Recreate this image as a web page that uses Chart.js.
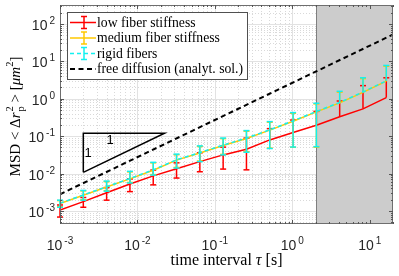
<!DOCTYPE html>
<html><head><meta charset="utf-8">
<script src="https://cdn.jsdelivr.net/npm/chart.js@4"></script>
<style>html,body{margin:0;padding:0;background:#fff}canvas{display:block}</style>
</head><body>
<canvas id="c" width="399" height="276"></canvas>
<script>
// ---- data ----
const tau = [0.001,0.002,0.004,0.008,0.016,0.032,0.064,0.128,0.256,0.512,1.024,2.048,4.096,8.192,16.384];

const lowMSD = [1.07e-3,1.78e-3,3.09e-3,5.25e-3,8.7e-3,0.0135,0.0209,0.0316,0.0447,0.0794,0.126,0.195,0.331,0.537,1.07];
const lowLo  = [6.9e-4,1.26e-3,1.95e-3,3.3e-3,5.0e-3,7.6e-3,0.0112,0.0132,0.0126,null,null,null,null,null,null];
const lowHi  = [1.45e-3,2.3e-3,4.23e-3,7.2e-3,0.0124,0.0194,0.036,0.051,0.089,0.159,0.27,0.46,0.87,2.24,3.63];

const medMSD = [1.58e-3,2.63e-3,4.37e-3,7.24e-3,0.0123,0.0229,0.0355,0.0562,0.0871,0.145,0.251,0.447,0.776,1.48,2.95];
const medLo  = [1.3e-3,2.0e-3,3.5e-3,5.8e-3,9.4e-3,0.0146,0.0216,0.0326,0.0385,0.048,0.0505,0.051,null,null,null];
const medHi  = [1.9e-3,3.45e-3,6.1e-3,0.0111,0.0194,0.032,0.053,0.086,0.136,0.236,0.41,0.73,1.5,3.45,7.4];

const rigidMSD = [1.62e-3,2.69e-3,4.47e-3,7.41e-3,0.0126,0.0234,0.0363,0.0575,0.0891,0.148,0.257,0.457,0.794,1.51,3.02];
const rigidLo  = [1.26e-3,1.95e-3,3.39e-3,5.62e-3,9.12e-3,0.0141,0.0209,0.0316,0.0372,0.0468,0.0513,0.0525,null,null,null];
const rigidHi  = [1.95e-3,3.55e-3,6.31e-3,0.0115,0.020,0.0331,0.055,0.0891,0.141,0.245,0.427,0.759,1.58,3.63,7.76];

const freeTau = [0.001, 20];
const freeMSD = [0.0028, 52];

const triTau = [0.002, 0.002, 0.0224, 0.002];
const triMSD = [0.0108, 0.12, 0.12, 0.0108];
const triLabels = [{t:'1', x:0.00443, y:0.079}, {t:'1', x:0.0023, y:0.0355}];

const xTickExp = [-3,-2,-1,0,1];
const yTickExp = [-3,-2,-1,0,1,2];
const xMin = 0.001, xMax = 20, yMin = 4.5e-4, yMax = 320;
const shadeStart = 2.048;

const legendLabels = ['low fiber stiffness','medium fiber stiffness','rigid fibers','free diffusion (analyt. sol.)'];

const RED = '#ff0000', YEL = '#ffc800', CYA = '#12f0f0', BLK = '#000000';

const pts = (xs, ys) => xs.map((v,i)=>({x:v, y:ys[i]}));

const SERIF = '"Liberation Serif", "DejaVu Serif", serif';
const SANS = '"Liberation Sans", Arial, sans-serif';

function rich(ctx, pieces, cx, cy){
  let w = 0;
  pieces.forEach(p=>{ctx.font=p.f; p.w = ctx.measureText(p.t).width; if(p.sub){ctx.font=p.sf; p.w=Math.max(p.w, ctx.measureText(p.sub).width);} w += p.w + (p.sp||0);});
  let x = cx - w/2;
  ctx.textBaseline='alphabetic'; ctx.textAlign='left';
  pieces.forEach(p=>{
    ctx.font=p.f; ctx.fillText(p.t, x, cy + (p.dy||0));
    if(p.sub){ctx.font=p.sf; ctx.fillText(p.sub, x, cy + p.sdy);}
    x += p.w + (p.sp||0);
  });
}

const plug = {
  id:'custom',
  beforeDatasetsDraw(chart){
    const {ctx, chartArea:a, scales:{x,y}} = chart;
    ctx.save();
    const vline=(px,c,d)=>{ctx.strokeStyle=c;ctx.setLineDash(d);ctx.beginPath();ctx.moveTo(px,a.top);ctx.lineTo(px,a.bottom);ctx.stroke();};
    const hline=(py,c,d)=>{ctx.strokeStyle=c;ctx.setLineDash(d);ctx.beginPath();ctx.moveTo(a.left,py);ctx.lineTo(a.right,py);ctx.stroke();};
    ctx.lineWidth=1;
    for(let e=-4;e<=2;e++) for(let m=2;m<=9;m++){
      const v=m*Math.pow(10,e);
      if(v>xMin && v<xMax) vline(Math.round(x.getPixelForValue(v))+0.5,'#d9d9d9',[1,2]);
      if(v>yMin && v<yMax) hline(Math.round(y.getPixelForValue(v))+0.5,'#d9d9d9',[1,2]);
    }
    xTickExp.forEach(e=>{const v=Math.pow(10,e); if(v>xMin&&v<xMax) vline(Math.round(x.getPixelForValue(v))+0.5,'#e2e2e2',[]);});
    yTickExp.forEach(e=>{const v=Math.pow(10,e); hline(Math.round(y.getPixelForValue(v))+0.5,'#e2e2e2',[]);});
    ctx.setLineDash([]);
    const sx = Math.round(x.getPixelForValue(shadeStart))+0.5;
    ctx.fillStyle='#cccccc'; ctx.fillRect(sx, a.top, a.right-sx, a.bottom-a.top);
    ctx.strokeStyle='#7f7f7f'; ctx.beginPath(); ctx.moveTo(sx,a.top); ctx.lineTo(sx,a.bottom); ctx.stroke();
    ctx.restore();
  },
  afterDatasetDraw(chart, args){
    const ds = chart.data.datasets[args.index];
    if(!ds.errHi) return;
    const {ctx, chartArea:a, scales:{x,y}} = chart;
    ctx.save();
    ctx.beginPath(); ctx.rect(a.left-4,a.top,a.right-a.left+8,a.bottom-a.top); ctx.clip();
    ctx.strokeStyle = ds.borderColor; ctx.lineWidth=1.5; ctx.setLineDash([]);
    ds.data.forEach((p,i)=>{
      const px = x.getPixelForValue(p.x);
      const hi = ds.errHi[i], lo = ds.errLo[i];
      const yh = y.getPixelForValue(hi);
      const yl = lo!=null ? y.getPixelForValue(lo) : y.getPixelForValue(p.y);
      ctx.beginPath(); ctx.moveTo(px,yl); ctx.lineTo(px,yh); ctx.stroke();
      ctx.beginPath(); ctx.moveTo(px-3,yh); ctx.lineTo(px+3,yh); ctx.stroke();
      if(lo!=null){ctx.beginPath(); ctx.moveTo(px-3,yl); ctx.lineTo(px+3,yl); ctx.stroke();}
    });
    ctx.restore();
  },
  afterDatasetsDraw(chart){
    const {ctx, chartArea:a, scales:{x,y}} = chart;
    ctx.save();
    // box
    ctx.strokeStyle='#6e6e6e'; ctx.lineWidth=1; ctx.setLineDash([]);
    ctx.strokeRect(Math.round(a.left)+0.5, Math.round(a.top)+0.5, Math.round(a.right-a.left)-1, Math.round(a.bottom-a.top)-1);
    // ticks
    ctx.strokeStyle='#555';
    const tk=(x1,y1,x2,y2)=>{ctx.beginPath();ctx.moveTo(x1,y1);ctx.lineTo(x2,y2);ctx.stroke();};
    for(let e=-4;e<=2;e++) for(let m=1;m<=9;m++){
      const v=m*Math.pow(10,e); const L = m===1?4:2;
      if(v>=xMin && v<=xMax){const px=Math.round(x.getPixelForValue(v))+0.5; tk(px,a.bottom,px,a.bottom-L); tk(px,a.top,px,a.top+L);}
      if(v>=yMin && v<=yMax){const py=Math.round(y.getPixelForValue(v))+0.5; tk(a.left,py,a.left+L,py); tk(a.right,py,a.right-L,py);}
    }
    // tick labels
    ctx.fillStyle='#262626';
    xTickExp.forEach(e=>{
      const px=x.getPixelForValue(Math.pow(10,e));
      rich(ctx,[{t:'10',f:'14px '+SANS,sp:2},{t:String(e),f:'10px '+SANS,dy:-6}],px,250);
    });
    yTickExp.forEach(e=>{
      const py=y.getPixelForValue(Math.pow(10,e));
      ctx.font='10px '+SANS; const we=ctx.measureText(String(e)).width;
      ctx.font='14px '+SANS; const wb=ctx.measureText('10').width;
      const right=55; const w=wb+2+we;
      rich(ctx,[{t:'10',f:'14px '+SANS,sp:2},{t:String(e),f:'10px '+SANS,dy:-6}],right-w/2,py+6);
    });
    // x title
    ctx.fillStyle='#000';
    rich(ctx,[{t:'time interval ',f:'16px '+SERIF},{t:'τ',f:'italic 16px '+SERIF},{t:' [s]',f:'16px '+SERIF}],(a.left+a.right)/2,265);
    // y title (rotated)
    ctx.save(); ctx.translate(20,(a.top+a.bottom)/2+2); ctx.rotate(-Math.PI/2);
    rich(ctx,[
      {t:'MSD < Δ',f:'15px '+SERIF},
      {t:'r',f:'italic 15px '+SERIF,sp:1},
      {t:'2',f:'10.5px '+SERIF,dy:-7,sub:'p',sf:'10.5px '+SERIF,sdy:4},
      {t:' > [',f:'15px '+SERIF},
      {t:'μm',f:'italic 15px '+SERIF},
      {t:'2',f:'10.5px '+SERIF,dy:-7},
      {t:']',f:'15px '+SERIF}
    ],0,0);
    ctx.restore();
    // triangle labels
    ctx.font='13px '+SANS; ctx.textAlign='center'; ctx.textBaseline='middle'; ctx.fillStyle='#000';
    triLabels.forEach(l=>ctx.fillText(l.t, x.getPixelForValue(l.x), y.getPixelForValue(l.y)));
    // legend
    const lx=67.5, ly=12.5, lw=180, lh=67;
    ctx.fillStyle='#fff'; ctx.fillRect(lx,ly,lw,lh);
    ctx.strokeStyle='#505050'; ctx.lineWidth=1; ctx.strokeRect(lx,ly,lw,lh);
    const rows=[22.5,38,53.5,69];
    const cols=[RED,YEL,CYA,BLK];
    rows.forEach((ry,i)=>{
      ctx.strokeStyle=cols[i];
      ctx.lineWidth = i===3?2:1.5;
      ctx.setLineDash(i===2?[4,3]:(i===3?[5,3.5]:[]));
      ctx.beginPath(); ctx.moveTo(70,ry); ctx.lineTo(96,ry); ctx.stroke();
      ctx.setLineDash([]);
      if(i<3){
        ctx.lineWidth=1.5;
        tk(84,ry-6,84,ry+6); tk(81,ry-6,87,ry-6); tk(81,ry+6,87,ry+6);
      }
      ctx.fillStyle='#000'; ctx.font='13.7px '+SERIF; ctx.textAlign='left'; ctx.textBaseline='middle';
      ctx.fillText(legendLabels[i],97,ry+0.5);
    });
    ctx.restore();
  }
};

new Chart(document.getElementById('c'), {
  type:'line',
  data:{datasets:[
    {label:legendLabels[0], data:pts(tau,lowMSD), errLo:lowLo, errHi:lowHi, borderColor:RED, borderWidth:1.5, pointRadius:0, order:5},
    {label:legendLabels[1], data:pts(tau,medMSD), errLo:medLo, errHi:medHi, borderColor:YEL, borderWidth:1.5, pointRadius:0, order:4},
    {label:legendLabels[2], data:pts(tau,rigidMSD), errLo:rigidLo, errHi:rigidHi, borderColor:CYA, borderWidth:1.5, borderDash:[4,3], pointRadius:0, order:3},
    {label:legendLabels[3], data:pts(freeTau,freeMSD), borderColor:BLK, borderWidth:2, borderDash:[5,3.5], pointRadius:0, order:2},
    {label:'slope', data:pts(triTau,triMSD), borderColor:BLK, borderWidth:1.5, pointRadius:0, order:1}
  ]},
  options:{
    responsive:false, animation:false, devicePixelRatio:1,
    layout:{padding:{left:0,right:6,top:5,bottom:0}},
    plugins:{legend:{display:false}, tooltip:{enabled:false}},
    scales:{
      x:{type:'logarithmic', min:xMin, max:xMax, ticks:{display:false}, grid:{display:false}, border:{display:false},
         afterFit:s=>{s.height=52;}},
      y:{type:'logarithmic', min:yMin, max:yMax, ticks:{display:false}, grid:{display:false}, border:{display:false},
         afterFit:s=>{s.width=60;}}
    }
  },
  plugins:[plug]
});
</script>
</body></html>
